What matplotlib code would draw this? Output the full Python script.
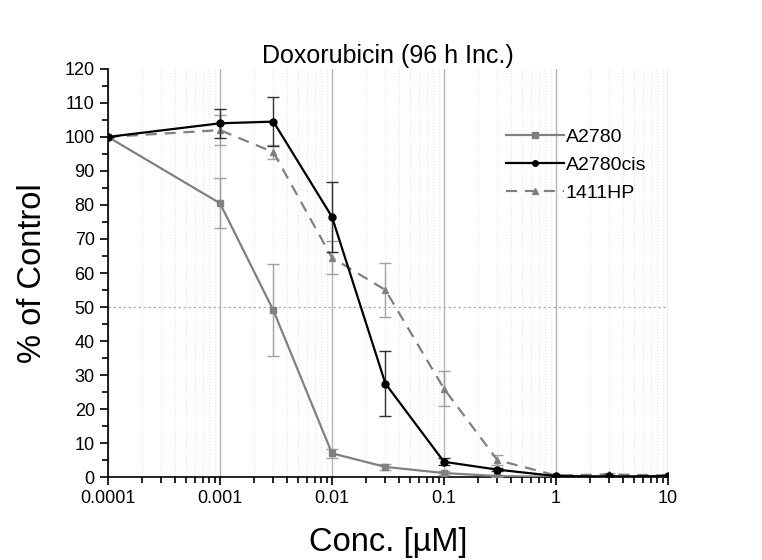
import numpy as np
import matplotlib.pyplot as plt
from matplotlib.ticker import LogLocator, FixedLocator, NullFormatter, MultipleLocator

conc = [0.0001, 0.001, 0.003, 0.01, 0.03, 0.1, 0.3, 1, 3, 10]

a2780 = [100, 80.5, 49, 7, 3, 1.2, 0.3, 0.1, 0.1, 0.1]
a2780_err = [0, 7.3, 13.5, 1.3, 0.8, 0.5, 0.3, 0.2, 0.2, 0.2]

a2780cis = [100, 104, 104.5, 76.5, 27.5, 4.5, 2.2, 0.3, 0.2, 0.3]
a2780cis_err = [0, 4.3, 7.3, 10.3, 9.5, 1.0, 0.5, 0.3, 0.3, 0.3]

hp1411 = [100, 102, 95.5, 64.5, 55, 26, 5, 0.5, 0.8, 0.5]
hp1411_err = [0, 4.5, 2.0, 4.8, 8.0, 5.2, 1.5, 0.3, 0.3, 0.3]

xticks = [0.0001, 0.001, 0.01, 0.1, 1, 10]
xticklabels = ["0.0001", "0.001", "0.01", "0.1", "1", "10"]

plt.rcParams['font.family'] = ['Liberation Sans', 'DejaVu Sans']

fig = plt.figure(figsize=(7.62, 5.6), dpi=100)
ax = fig.add_axes([0.1417, 0.148, 0.7349, 0.729])

g = '#808080'
ax.errorbar(conc, a2780, yerr=a2780_err, color=g, marker='s', ms=5, lw=1.6,
            capsize=4, elinewidth=1, ecolor='#a0a0a0', label='A2780', zorder=3)
ax.errorbar(conc, a2780cis, yerr=a2780cis_err, color='black', marker='o', ms=5, lw=1.6,
            capsize=4, elinewidth=1, ecolor='#303030', label='A2780cis', zorder=4)
ax.errorbar(conc, hp1411, yerr=hp1411_err, color=g, marker='^', ms=5, lw=1.6, ls=(0, (5, 3.5)),
            capsize=4, elinewidth=1, ecolor='#a0a0a0', label='1411HP', zorder=3)

ax.set_xscale('log')
ax.set_xlim(0.0001, 10)
ax.set_ylim(0, 120)
ax.xaxis.set_major_locator(FixedLocator(xticks))
ax.set_xticklabels(xticklabels)
ax.xaxis.set_minor_locator(LogLocator(base=10, subs=np.arange(2, 10), numticks=20))
ax.xaxis.set_minor_formatter(NullFormatter())
ax.yaxis.set_major_locator(MultipleLocator(10))
ax.yaxis.set_minor_locator(MultipleLocator(5))

ax.grid(which='major', axis='x', color='#b4b4b4', lw=1, ls='-')
ax.grid(which='minor', axis='x', color='#e4e4e4', lw=0.8, ls=':')
ax.axhline(50, color='#b0b0b0', lw=0.9, ls=(0, (2, 2)), zorder=1)
ax.set_axisbelow(True)

for s in ['top', 'right']:
    ax.spines[s].set_visible(False)
ax.spines['left'].set_linewidth(1.2)
ax.spines['bottom'].set_linewidth(1.2)
ax.tick_params(which='major', direction='out', length=6, width=1.2, labelsize=13)
ax.tick_params(which='minor', direction='out', length=4, width=1.2)

ax.set_title('Doxorubicin (96 h Inc.)', fontsize=18, pad=4)
ax.set_xlabel('Conc. [µM]', fontsize=23.5, labelpad=14)
ax.set_ylabel('% of Control', fontsize=23.5, labelpad=12)

handles, labels = ax.get_legend_handles_labels()
handles = [h[0] for h in handles]
ax.legend(handles, labels, loc='upper left', bbox_to_anchor=(0.71, 0.855), frameon=False,
          fontsize=14, handlelength=3.0, handletextpad=0.1, labelspacing=0.55, markerscale=0.8,
          borderaxespad=0, borderpad=0)

fig.savefig('out.png', dpi=100)
